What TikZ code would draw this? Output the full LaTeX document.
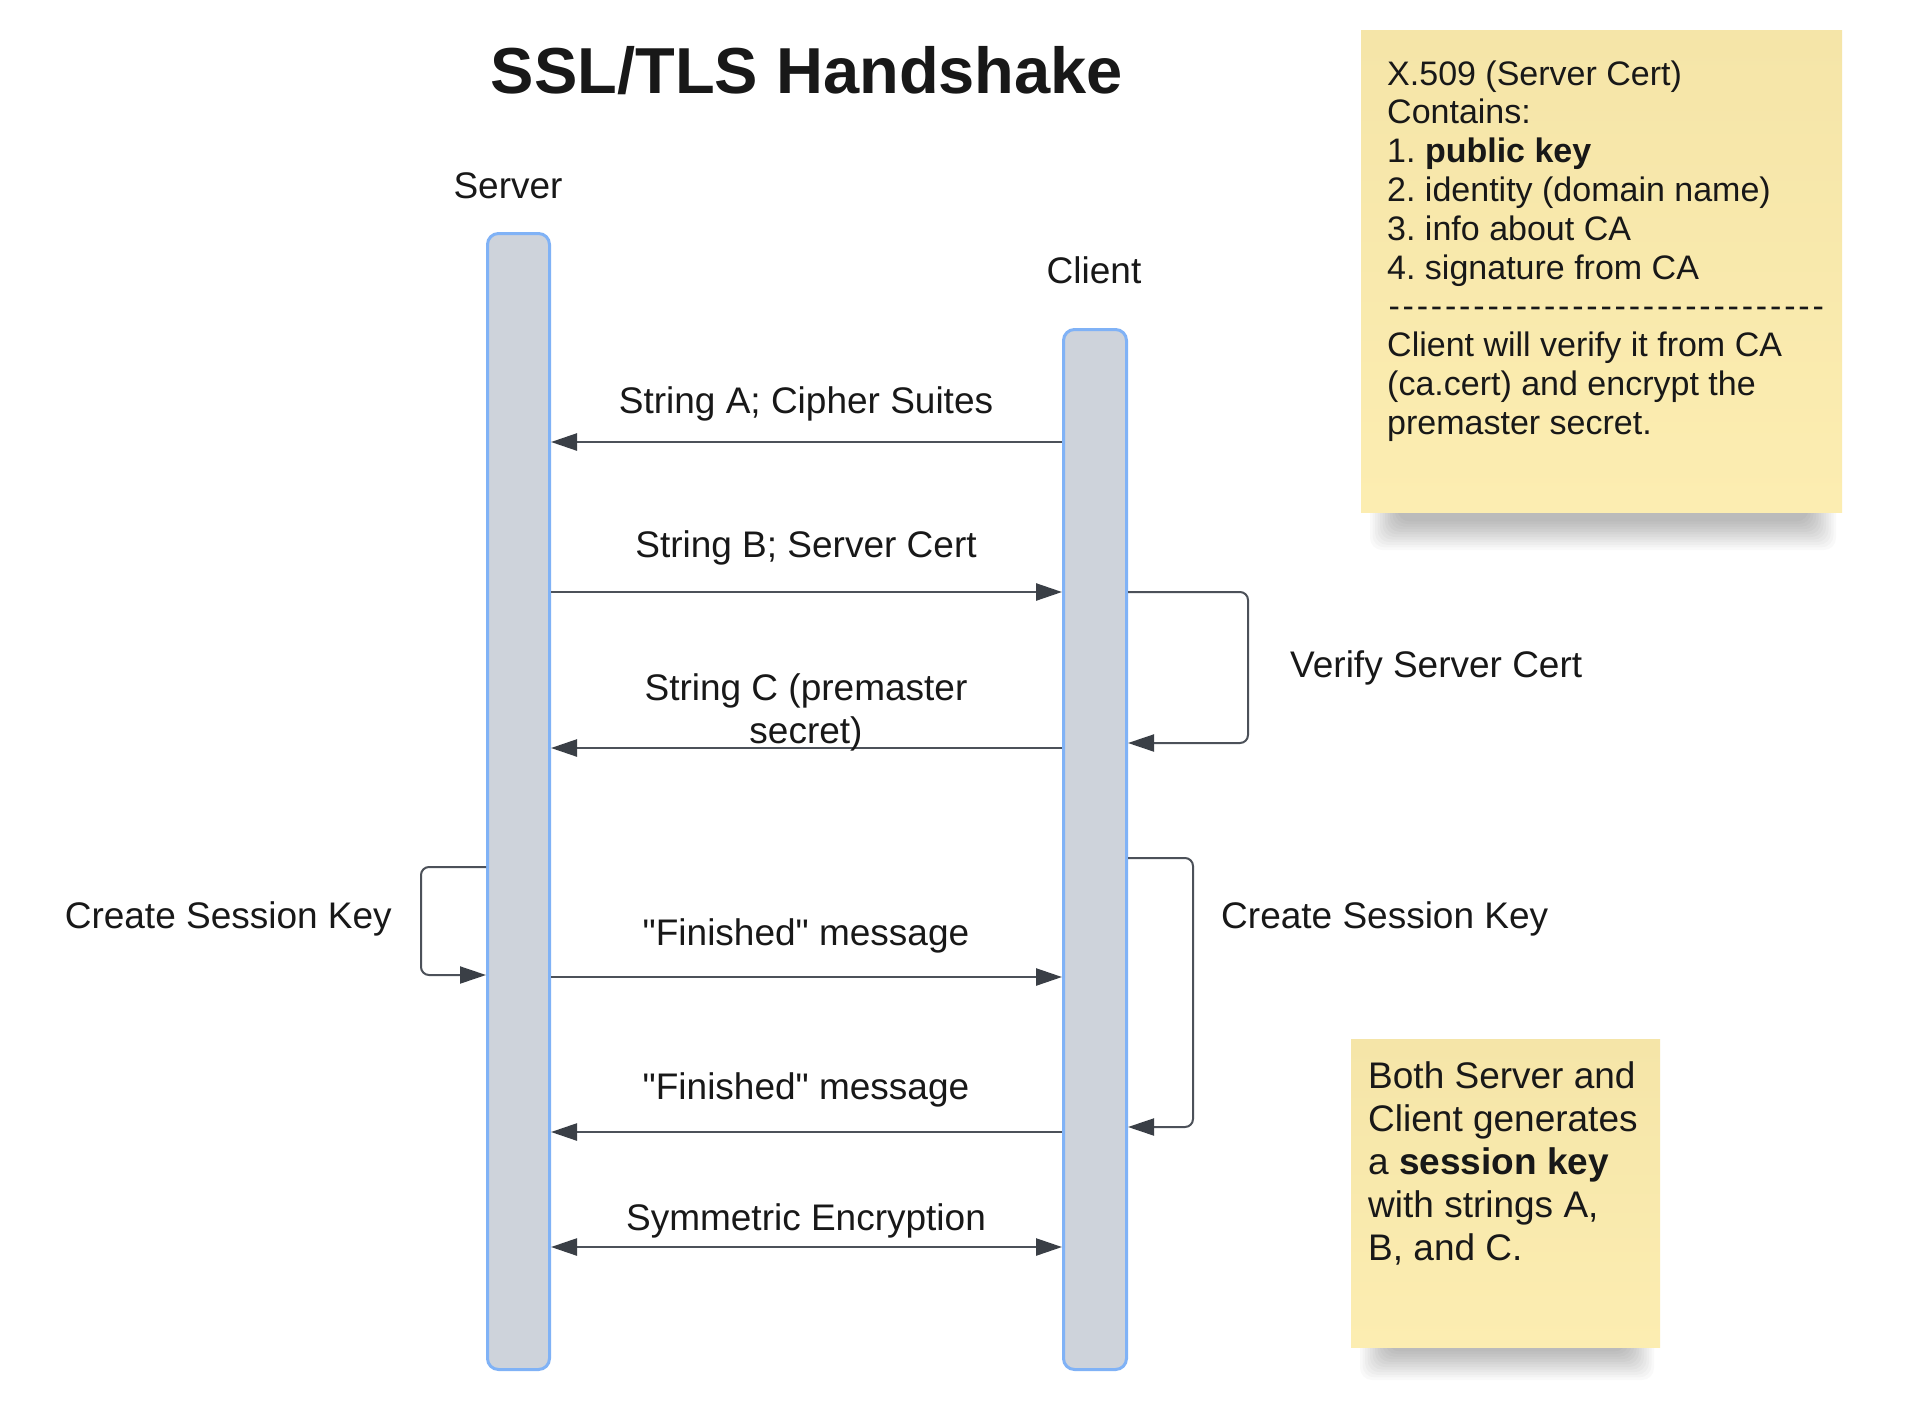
\documentclass[tikz,border=0pt]{standalone}
\usepackage{fontspec}
\setmainfont{Liberation Sans}[Ligatures=TeXOff]
\usetikzlibrary{arrows.meta}
\definecolor{barfill}{RGB}{206,211,219}
\definecolor{barline}{RGB}{128,178,246}
\definecolor{msgcol}{RGB}{76,81,89}
\definecolor{tipcol}{RGB}{58,63,70}
\definecolor{txt}{RGB}{24,24,24}
\definecolor{notetop}{RGB}{245,229,168}
\definecolor{notebot}{RGB}{252,237,177}
\frenchspacing
\tikzset{
  lifeline/.style={draw=barline, fill=barfill, line width=3pt, rounded corners=11pt, minimum width=62pt, inner sep=0pt},
  lbl/.style={inner sep=0pt, text=txt, font=\fontsize{37}{43}\selectfont},
  msg/.style={draw=msgcol, line width=2.5pt, -{Triangle[length=26pt,width=17pt,color=tipcol]}},
  msgboth/.style={draw=msgcol, line width=2.5pt, {Triangle[length=26pt,width=17pt,color=tipcol]}-{Triangle[length=26pt,width=17pt,color=tipcol]}},
  selfloop/.style={draw=msgcol, line width=2pt, rounded corners=8pt, -{Triangle[length=26pt,width=17pt,color=tipcol]}},
  note/.style={top color=notetop, bottom color=notebot, draw=none, inner sep=0pt},
  notetxt/.style={inner sep=0pt, text=txt},
}
\begin{document}
\begin{tikzpicture}[x=1pt,y=-1pt]
\useasboundingbox (0,0) rectangle (1918,1424);
\fill[white] (0,0) rectangle (1918,1424);

% title
\node[lbl, anchor=base, font=\fontsize{65}{70}\selectfont\bfseries] (title) at (807,93) {SSL/TLS Handshake};

% lifelines
\node[lbl, anchor=base] (srvlbl) at (508,198) {Server};
\node[lbl, anchor=base] (clilbl) at (1094,283) {Client};
\node[lifeline, minimum height=1136pt] (S) at (518.5,801.5) {};
\node[lifeline, minimum width=63pt, minimum height=1040pt] (C) at (1095,849.5) {};

% row coordinates
\coordinate (yA) at (0,442);
\coordinate (yB) at (0,592);
\coordinate (yC) at (0,748);
\coordinate (yF1) at (0,977);
\coordinate (yF2) at (0,1132);
\coordinate (yS) at (0,1247);
\coordinate (yV2) at (0,743);
\coordinate (yL1) at (0,867);
\coordinate (yL2) at (0,975);
\coordinate (yR1) at (0,858);
\coordinate (yR2) at (0,1127);
\coordinate (xV) at (1248,0);
\coordinate (xL) at (421,0);
\coordinate (xR) at (1193,0);

% messages
\draw[msg] (C.west |- yA) -- (S.east |- yA);
\draw[msg] (S.east |- yB) -- (C.west |- yB);
\draw[msg] (C.west |- yC) -- (S.east |- yC);
\draw[msg] (S.east |- yF1) -- (C.west |- yF1);
\draw[msg] (C.west |- yF2) -- (S.east |- yF2);
\draw[msgboth] (S.east |- yS) -- (C.west |- yS);

% self loops
\draw[selfloop] (C.east |- yB) -- (xV |- yB) -- (xV |- yV2) -- (C.east |- yV2);
\draw[selfloop] (S.west |- yL1) -- (xL |- yL1) -- (xL |- yL2) -- (S.west |- yL2);
\draw[selfloop] (C.east |- yR1) -- (xR |- yR1) -- (xR |- yR2) -- (C.east |- yR2);

% message labels
\node[lbl, anchor=base] (la) at (806,413) {String A; Cipher Suites};
\node[lbl, anchor=base] (lb) at (806,557) {String B; Server Cert};
\node[lbl, anchor=base] (lc) at (806,700) {\begin{tabular}[t]{@{}c@{}}String C (premaster\\secret)\end{tabular}};
\node[lbl, anchor=base] (lf1) at (806,945) {"Finished" message};
\node[lbl, anchor=base] (lf2) at (806,1099) {"Finished" message};
\node[lbl, anchor=base] (ls) at (806,1230) {Symmetric Encryption};
\node[lbl, anchor=base west] (lv) at (1290,677) {Verify Server Cert};
\node[lbl, anchor=base east] (lks) at (392,928) {Create Session Key};
\node[lbl, anchor=base west] (lkc) at (1221,928) {Create Session Key};

% note shadows
\foreach \i in {0,...,11}{
  \fill[black, opacity=0.025, rounded corners=12pt] (1370+2.5*\i,490) rectangle (1836-2.5*\i,550-2.6*\i);
  \fill[black, opacity=0.025, rounded corners=12pt] (1360+2.5*\i,1325) rectangle (1654-2.5*\i,1380-2.6*\i);
}

% note 1
\node[note, minimum width=481pt, minimum height=482pt, anchor=north west] (n1) at (1361,30) {};
\node[notetxt, anchor=base west, font=\fontsize{34}{38.8}\selectfont] (n1t) at (1387,85) {\begin{tabular}[t]{@{}l@{}}X.509 (Server Cert)\\Contains:\\1. \textbf{public key}\\2. identity (domain name)\\3. info about CA\\4. signature from CA\\\foreach \k in {1,...,31}{\hbox to 14.13pt{\hss-\hss}}\\Client will verify it from CA\\(ca.cert) and encrypt the\\premaster secret.\end{tabular}};

% note 2
\node[note, minimum width=309pt, minimum height=308pt, anchor=north west] (n2) at (1351,1039) {};
\node[notetxt, anchor=base west, font=\fontsize{37}{43}\selectfont] (n2t) at (1368,1088) {\begin{tabular}[t]{@{}l@{}}Both Server and\\Client generates\\a \textbf{session key}\\with strings A,\\B, and C.\end{tabular}};
\end{tikzpicture}
\end{document}
